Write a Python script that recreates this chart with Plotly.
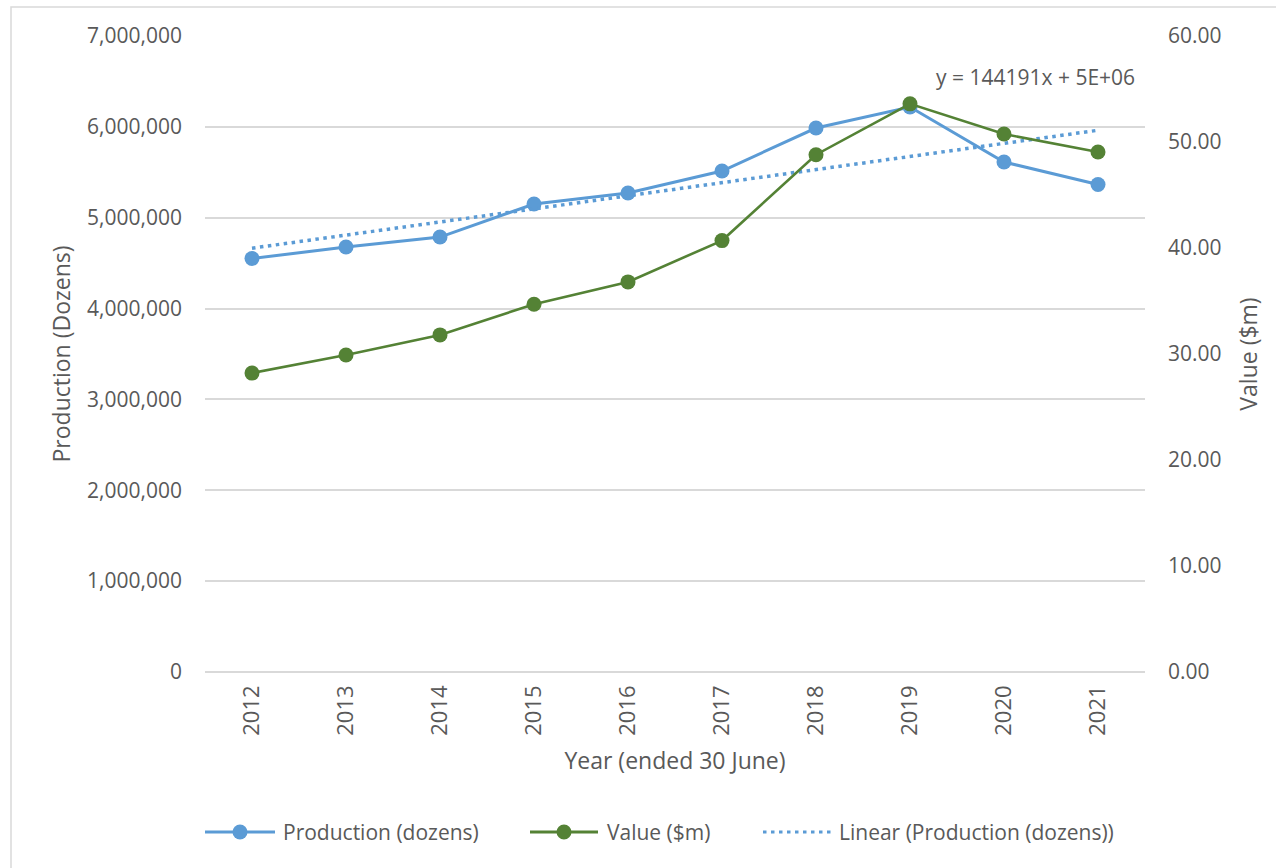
import numpy as np
import plotly.graph_objects as go

# ---- data ----
years = ["2012", "2013", "2014", "2015", "2016", "2017", "2018", "2019", "2020", "2021"]
production_dozens = [4551000, 4677000, 4787000, 5151000, 5272000, 5514000, 5987000, 6218000, 5613000, 5366000]
value_musd = [28.2, 29.9, 31.8, 34.7, 36.8, 40.7, 48.8, 53.6, 50.75, 49.05]
trend_slope = 144191  # dozens per year, from the linear trendline equation
trend_label = "y = 144191x + 5E+06"

left_ticks = [0, 1000000, 2000000, 3000000, 4000000, 5000000, 6000000, 7000000]
right_ticks = [0, 10, 20, 30, 40, 50, 60]

# ---- style ----
BLUE = "#5B9BD5"
GREEN = "#548235"
GRID = "#D9D9D9"
TEXT = "#595959"
FONT = "Open Sans"
DOT = "3.5px,4.5px"

W, H = 1276, 868
PL, PR, PT, PB = 205, 1145, 36, 672  # plot area in pixels


def px_x(px):
    return (px - PL) / (PR - PL)


def px_y(py):
    return (PB - py) / (PB - PT)


# linear trend: x = 1..n, intercept chosen by least squares for the stated slope
xi = np.arange(1, len(years) + 1)
intercept = float(np.mean(production_dozens) - trend_slope * np.mean(xi))
trend_vals = trend_slope * xi + intercept

fig = go.Figure()

fig.add_trace(go.Scatter(
    x=years, y=production_dozens, name="Production (dozens)",
    mode="lines+markers", line=dict(color=BLUE, width=3),
    marker=dict(color=BLUE, size=15), yaxis="y", showlegend=False,
))
fig.add_trace(go.Scatter(
    x=years, y=trend_vals, name="Linear (Production (dozens))",
    mode="lines", line=dict(color=BLUE, width=3.5, dash=DOT),
    yaxis="y", showlegend=False,
))
fig.add_trace(go.Scatter(
    x=years, y=value_musd, name="Value ($m)",
    mode="lines+markers", line=dict(color=GREEN, width=2.6),
    marker=dict(color=GREEN, size=15), yaxis="y2", showlegend=False,
))

shapes = []
annotations = []

# outer chart border
shapes.append(dict(
    type="rect", xref="paper", yref="paper",
    x0=px_x(11), x1=px_x(W + 20), y0=px_y(7), y1=px_y(H + 20),
    line=dict(color=GRID, width=1.5), fillcolor="rgba(0,0,0,0)", layer="below",
))

# legend row
LEG_Y = 832
legend_items = [
    ("Production (dozens)", BLUE, "solid", True, 205, 275, 281),
    ("Value ($m)", GREEN, "solid", True, 530, 598, 605),
    ("Linear (Production (dozens))", BLUE, DOT, False, 763, 832, 837),
]
for label, color, dash, has_marker, lx0, lx1, tx in legend_items:
    shapes.append(dict(
        type="line", xref="paper", yref="paper",
        x0=px_x(lx0), x1=px_x(lx1), y0=px_y(LEG_Y), y1=px_y(LEG_Y),
        line=dict(color=color, width=3, dash=dash),
    ))
    if has_marker:
        mx = px_x((lx0 + lx1) / 2)
        shapes.append(dict(
            type="circle", xref="paper", yref="paper",
            xsizemode="pixel", ysizemode="pixel",
            xanchor=mx, yanchor=px_y(LEG_Y),
            x0=-7.5, x1=7.5, y0=-7.5, y1=7.5,
            fillcolor=color, line=dict(color=color, width=0),
        ))
    annotations.append(dict(
        text=label, xref="paper", yref="paper",
        x=px_x(tx), y=px_y(LEG_Y), xanchor="left", yanchor="middle",
        showarrow=False, font=dict(family=FONT, size=21, color=TEXT),
    ))

# trendline equation
annotations.append(dict(
    text=trend_label, xref="paper", yref="paper",
    x=px_x(1137), y=px_y(77), xanchor="right", yanchor="middle",
    showarrow=False, font=dict(family=FONT, size=21, color=TEXT),
))

fig.update_layout(
    width=W, height=H,
    margin=dict(l=PL, r=W - PR, t=PT, b=H - PB),
    paper_bgcolor="white", plot_bgcolor="white",
    font=dict(family=FONT, color=TEXT),
    xaxis=dict(
        type="category", range=[-0.5, len(years) - 0.5],
        tickangle=-90, tickfont=dict(size=22, color=TEXT),
        showgrid=False, showline=False, zeroline=False, ticks="",
        ticklabelstandoff=8,
        title=dict(text="Year (ended 30 June)", font=dict(size=23, color=TEXT), standoff=18),
    ),
    yaxis=dict(
        range=[0, 7000000], tickvals=left_ticks, tickformat=",.0f",
        tickfont=dict(size=21, color=TEXT),
        showgrid=True, gridcolor=GRID, gridwidth=1.5,
        zeroline=True, zerolinecolor=GRID, zerolinewidth=1.5,
        showline=False, ticks="", ticklabelstandoff=22,
        title=dict(text="Production (Dozens)", font=dict(size=23, color=TEXT), standoff=10),
    ),
    yaxis2=dict(
        range=[0, 60], tickvals=right_ticks, tickformat=".2f",
        overlaying="y", side="right",
        tickfont=dict(size=21, color=TEXT),
        showgrid=False, zeroline=False, showline=False, ticks="",
        ticklabelstandoff=22,
        title=dict(text="Value ($m)", font=dict(size=23, color=TEXT), standoff=20),
    ),
    shapes=shapes,
    annotations=annotations,
    showlegend=False,
)

fig.write_html("out.html")
